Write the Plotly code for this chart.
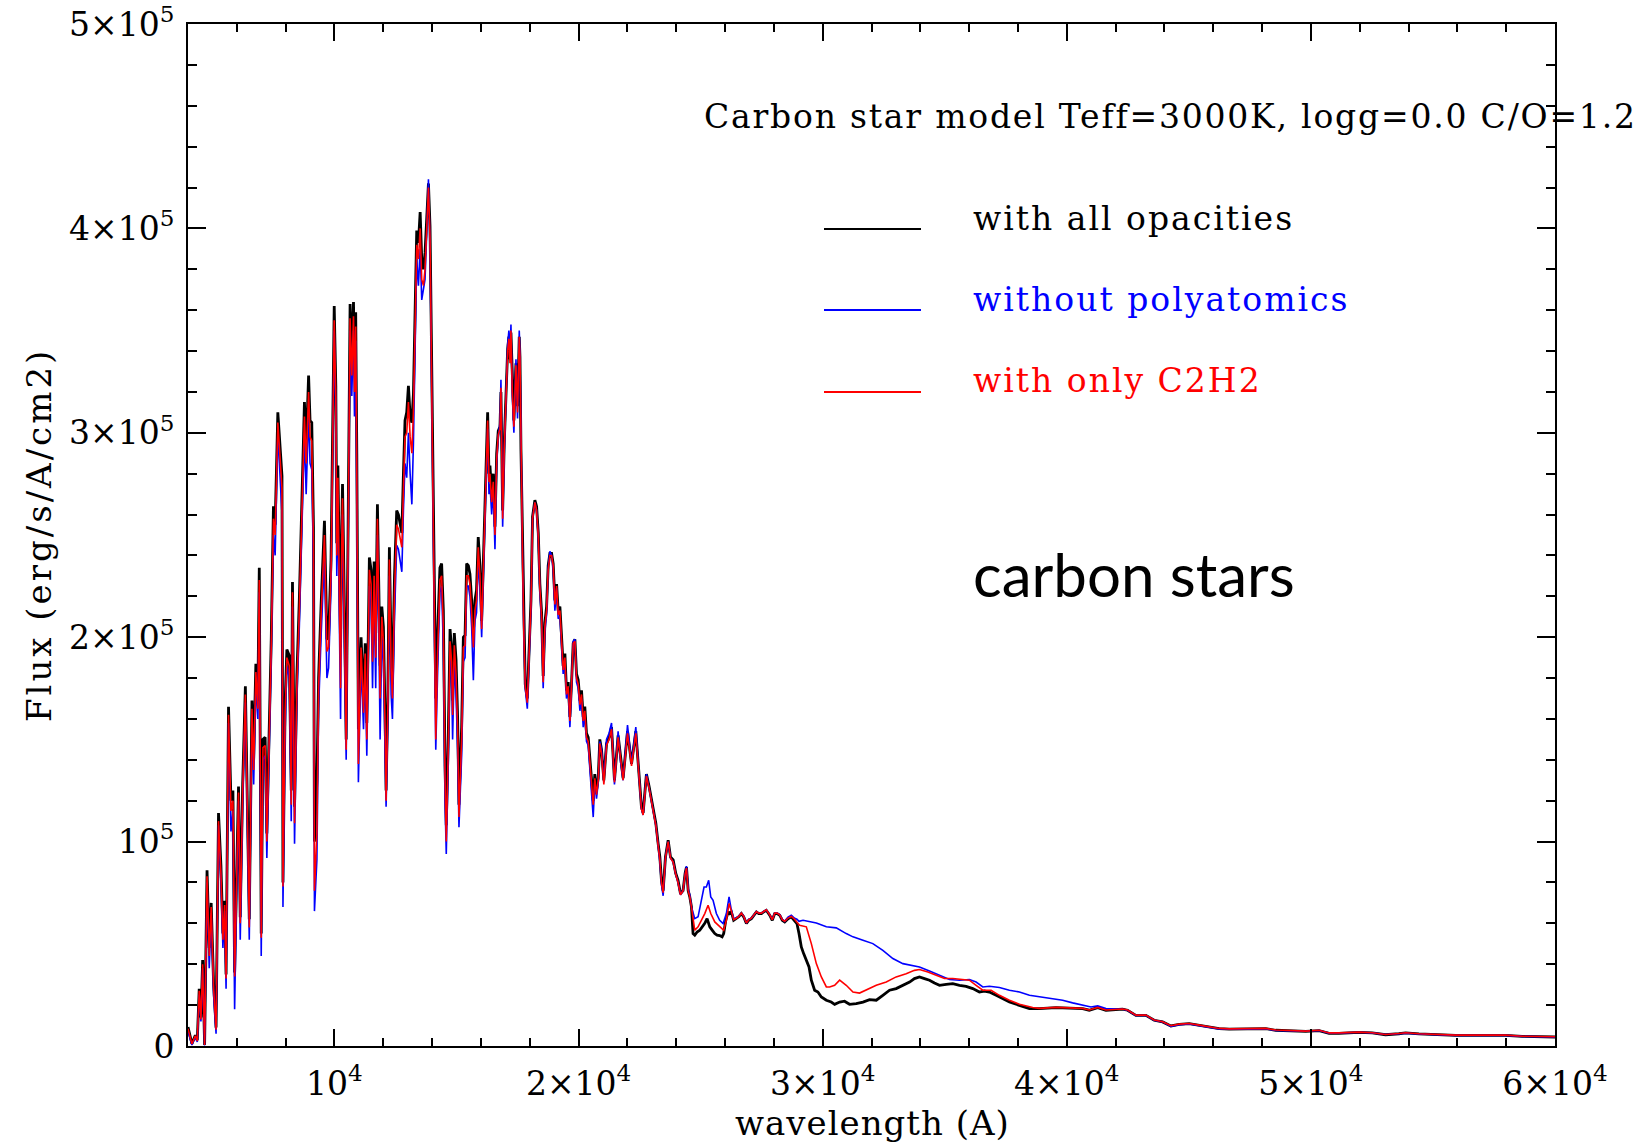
import plotly.graph_objects as go

# ---------------------------------------------------------------------------
# Synthetic spectra of a carbon star model (Teff=3000K, logg=0.0, C/O=1.2)
# Wavelength in Angstrom, flux in 10^3 erg/s/A/cm2.
# Below ~2.46 micron the three opacity set-ups share one wavelength grid.
# ---------------------------------------------------------------------------
wave_common = [
    4000, 4160, 4300, 4380, 4460, 4530, 4600, 4680, 4780, 4870, 4950, 5050, 5150,
    5250, 5350, 5430, 5500, 5560, 5660, 5760, 5840, 5910, 6000, 6070, 6140, 6240,
    6350, 6410, 6510, 6620, 6690, 6780, 6860, 6920, 7000, 7070, 7160, 7230, 7330,
    7410, 7500, 7570, 7680, 7780, 7850, 7890, 7980, 8050, 8150, 8230, 8280, 8365,
    8460, 8560, 8640, 8730, 8770, 8840, 8940, 9000, 9070, 9140, 9180, 9280, 9350,
    9450, 9590, 9690, 9760, 9860, 9930, 9990, 10055, 10095, 10140, 10190, 10250,
    10300, 10330, 10410, 10480, 10570, 10640, 10710, 10780, 10820, 10870, 10915,
    10980, 11090, 11190, 11260, 11325, 11390, 11430, 11500, 11560, 11625, 11690,
    11760, 11800, 11870, 11940, 12005, 12075, 12115, 12185, 12250, 12320, 12375,
    12460, 12550, 12620, 12690, 12760, 12825, 12890, 12960, 13030, 13100, 13170,
    13235, 13300, 13370, 13440, 13510, 13575, 13645, 13710, 13780, 13850, 13915,
    13985, 14050, 14095, 14150, 14220, 14320, 14390, 14460, 14530, 14580, 14665,
    14735, 14800, 14840, 14910, 14980, 15045, 15100, 15210, 15280, 15350, 15415,
    15485, 15550, 15620, 15690, 15755, 15820, 15890, 15960, 16030, 16100, 16140,
    16205, 16275, 16330, 16370, 16440, 16505, 16575, 16645, 16710, 16780, 16820,
    16890, 16955, 17025, 17095, 17145, 17190, 17230, 17285, 17350, 17435, 17500,
    17570, 17600, 17640, 17665, 17710, 17760, 17815, 17900, 17980, 18050, 18115,
    18210, 18280, 18350, 18415, 18485, 18550, 18620, 18690, 18755, 18825, 18895,
    18960, 19030, 19100, 19165, 19235, 19305, 19370, 19440, 19505, 19575, 19645,
    19710, 19780, 19850, 19915, 19985, 20055, 20120, 20190, 20255, 20325, 20395,
    20460, 20530, 20600, 20665, 20735, 20805, 20870, 20940, 21035, 21145, 21250,
    21350, 21470, 21620, 21720, 21825, 22005, 22170, 22345, 22480, 22575, 22645,
    22780, 22890, 22985, 23055, 23165, 23260, 23330, 23395, 23465, 23560, 23670,
    23765, 23875, 23980, 24075, 24175, 24280, 24365, 24420, 24490, 24555, 24625,
]

flux_all_common = [
    9.3, 1.1, 5.2, 2.8, 28, 14, 42, 0.5, 86, 48, 70, 30, 9,
    114, 88, 55, 71, 35, 166, 120, 125, 36, 88, 127, 63, 128,
    176, 140, 62, 169, 140, 187, 169, 234, 55, 150, 151, 104, 153,
    199, 264, 255, 310, 292, 279, 80, 168, 194, 191, 125, 227, 117,
    181, 218, 254, 298, 315, 292, 328, 306, 305, 254, 100, 130, 180,
    215, 257, 199, 200, 238, 319, 362, 323, 246, 284, 238, 195,
    254, 275, 213, 150, 269, 363, 336, 364, 329, 359, 290,
    155, 200, 169, 197, 158, 205, 239, 233, 197, 237, 202,
    265, 240, 186, 215, 205, 161, 125, 169, 244, 194, 177,
    230, 262, 260, 255, 251, 280, 306, 310, 323, 308, 305,
    319, 352, 399, 393, 408, 385, 380, 388, 409, 422, 401,
    336, 270, 213, 170, 200, 234, 236, 213, 137, 108, 153,
    204, 194, 169, 202, 189, 161, 118, 156, 200, 201, 236,
    235, 231, 218, 202, 218, 223, 249, 235, 208, 235, 251,
    280, 310, 280, 284, 270, 280, 254, 290, 301, 303, 320,
    262, 295, 319, 341, 347, 336, 349, 323, 306, 334, 313,
    347, 337, 292, 275, 235, 202, 177, 170, 194, 218, 259,
    267, 264, 251, 226, 212, 181, 207, 215, 235, 241, 241,
    236, 218, 226, 213, 215, 199, 186, 192, 174, 178, 161,
    177, 197, 199, 182, 179, 169, 174, 161, 166, 153, 151,
    141, 130, 120, 133, 125, 131, 150, 145, 130, 148, 151,
    156, 130, 152, 140, 131, 154, 138, 154, 132, 117, 114,
    133, 127, 120, 117, 109, 99, 92.5, 81, 76, 92.5, 100.7,
    92.5, 91, 84.5, 81, 74.5, 76, 84.5, 87.5, 76, 73, 68,
]

flux_nopoly_common = [
    7, 0.5, 4.5, 2, 25, 12, 38, 0.3, 80, 38, 65, 25, 6,
    108, 80, 48, 66, 28, 158, 105, 115, 18, 82, 120, 52, 120,
    168, 128, 52, 160, 128, 178, 160, 222, 44, 140, 142, 92, 144,
    190, 250, 240, 300, 280, 260, 68, 155, 186, 180, 110, 215, 99,
    170, 205, 240, 285, 300, 270, 310, 285, 282, 235, 66, 91, 165,
    200, 240, 180, 185, 225, 305, 350, 310, 230, 270, 220, 160,
    240, 260, 195, 140, 255, 350, 318, 350, 308, 345, 265,
    129, 188, 155, 185, 142, 193, 225, 218, 175, 222, 175,
    250, 222, 150, 200, 188, 145, 117, 158, 230, 172, 160,
    210, 245, 243, 238, 232, 262, 285, 278, 300, 280, 265,
    295, 335, 385, 372, 390, 365, 370, 375, 398, 424, 390,
    325, 260, 200, 145, 180, 222, 225, 195, 120, 94, 140,
    190, 180, 150, 188, 172, 145, 107, 142, 188, 190, 225,
    225, 220, 205, 179, 208, 212, 238, 224, 200, 227, 243,
    274, 302, 270, 275, 260, 272, 243, 285, 298, 305, 326,
    254, 290, 320, 343, 350, 337, 353, 318, 300, 336, 307,
    350, 338, 292, 275, 234, 200, 175, 165, 190, 214, 258,
    266, 262, 248, 222, 208, 175, 203, 211, 234, 242, 240,
    233, 213, 224, 209, 210, 195, 182, 188, 170, 174, 156,
    175, 198, 199, 178, 175, 164, 170, 156, 162, 149, 147,
    137, 125, 112, 129, 121, 129, 149, 145, 129, 150, 153,
    158, 128, 154, 139, 130, 157, 138, 156, 131, 116, 113,
    133, 126, 119, 116, 108, 98, 90, 79, 73.5, 92, 100,
    92, 90, 84, 80, 74, 76, 84, 88, 77, 74, 68,
]

flux_c2h2_common = [
    8.5, 1, 5, 2.5, 27, 13, 40, 0.5, 83, 44, 68, 28, 8,
    110, 84, 52, 69, 33, 162, 115, 120, 34, 85, 124, 60, 125,
    172, 135, 58, 165, 135, 183, 165, 228, 53, 146, 147, 100, 149,
    195, 258, 250, 305, 287, 273, 78, 163, 190, 186, 118, 222, 109,
    176, 213, 248, 292, 308, 285, 320, 298, 296, 245, 76, 104, 175,
    210, 250, 193, 195, 232, 312, 355, 318, 240, 278, 230, 175,
    248, 268, 205, 145, 262, 356, 328, 357, 320, 352, 280,
    138, 195, 163, 192, 150, 200, 233, 226, 188, 230, 190,
    258, 232, 170, 210, 198, 155, 120, 164, 238, 185, 170,
    222, 255, 253, 248, 244, 272, 298, 300, 315, 298, 290,
    310, 345, 392, 385, 400, 375, 372, 380, 402, 420, 395,
    330, 265, 208, 150, 190, 228, 230, 205, 130, 100, 148,
    198, 188, 162, 196, 182, 155, 112, 150, 195, 196, 230,
    230, 226, 212, 195, 213, 218, 244, 230, 204, 231, 247,
    277, 306, 276, 280, 266, 276, 250, 287, 299, 302, 322,
    258, 292, 318, 340, 346, 334, 350, 320, 303, 333, 310,
    347, 337, 292, 275, 235, 201, 176, 168, 192, 216, 258,
    266, 262, 249, 224, 210, 178, 205, 213, 233, 240, 240,
    235, 216, 225, 211, 213, 197, 184, 190, 172, 176, 159,
    176, 197, 198, 180, 177, 167, 172, 159, 164, 151, 149,
    139, 128, 118, 131, 123, 130, 148, 143, 128, 147, 150,
    155, 129, 151, 139, 130, 153, 137, 153, 131, 116, 113,
    132, 126, 119, 116, 108, 98, 91, 80, 75, 92, 100,
    92, 90, 84, 80, 74, 76, 84, 87, 76, 73, 68,
]

# Long-wavelength part, where the polyatomic bands separate the models
wave_all_tail = [
    24690, 24760, 24855, 24965, 25075, 25170, 25265, 25375, 25480, 25580, 25675,
    25780, 25880, 25945, 26030, 26125, 26190, 26260, 26355, 26465, 26560, 26670,
    26765, 26875, 26970, 27080, 27175, 27285, 27380, 27490, 27585, 27690, 27830,
    27935, 28035, 28130, 28240, 28345, 28445, 28580, 28715, 28850, 28945, 29030,
    29125, 29220, 29330, 29440, 29535, 29670, 29805, 29945, 30150, 30350, 30490,
    30695, 30895, 31100, 31375, 31650, 31920, 32195, 32465, 32740, 33010, 33285,
    33560, 33760, 33965, 34170, 34375, 34580, 34785, 35060, 35330, 35605, 35875,
    36150, 36420, 36625, 36830, 37105, 37375, 37650, 38060, 38470, 38875, 39560,
    40650, 40920, 41265, 41605, 42285, 42490, 42830, 43240, 43580, 43925, 44265,
    44605, 45015, 45425, 45830, 46240, 46650, 47060, 47605, 48150, 48560, 49245,
    49790, 50335, 50745, 51150, 51560, 51970, 52515, 53060, 53605, 53880, 54425,
    55245, 55925, 56610, 57290, 57970, 58655, 59335, 60000,
]
flux_all_tail = [
    55, 54.2, 55.8, 56.6, 58.3, 60, 62.3, 58.3, 56.6, 55, 54.2,
    54, 53.4, 55, 61.5, 65.6, 64.8, 65.6, 61.5, 62.3, 63.2, 64.8,
    63.2, 59.9, 61.5, 62.3, 64, 65.6, 64.8, 64.8, 65.6, 66.4, 64,
    61.5, 64.8, 64.8, 64, 61.5, 60.7, 62.3, 63.2, 61.5, 59.9, 55,
    48.5, 45.2, 41.9, 38.7, 32.2, 27.3, 26.4, 24, 22.4, 21.5, 20.4,
    21.5, 21.9, 20.4, 20.7, 21.5, 22.7, 22.4, 24.8, 27.3, 28.1, 29.7,
    31.3, 33, 33.8, 33, 32.2, 30.8, 29.7, 30.2, 30.5, 29.7, 29.2,
    28.1, 26.4, 26.9, 26.4, 24.8, 23.2, 21.5, 19.9, 18.3, 18.3, 18.8,
    18.3, 17.5, 18.8, 17.5, 18, 17.5, 15, 15, 12.6, 11.8, 9.8,
    10.6, 10.9, 10.1, 9.3, 8.5, 8.3, 8.3, 8.5, 8.5, 7.7, 7.3,
    7.2, 7.5, 6.2, 6.2, 6.4, 6.7, 6.4, 5.5, 6, 6.4, 5.9,
    5.4, 5.2, 5.2, 5.2, 5.2, 4.7, 4.4, 4.4,
]

wave_nopoly_tail = [
    24760, 24895, 25030, 25140, 25235, 25330, 25415, 25510, 25645, 25780, 25920,
    26055, 26165, 26260, 26355, 26465, 26560, 26670, 26765, 26875, 26970, 27080,
    27175, 27285, 27380, 27490, 27585, 27690, 27830, 27935, 28035, 28130, 28240,
    28345, 28445, 28580, 28715, 28850, 28945, 29030, 29195, 29740, 30150, 30555,
    30965, 31240, 31650, 32055, 32465, 32875, 33285, 33695, 33965, 34375, 34785,
    35195, 35605, 36010, 36285, 36560, 36830, 37240, 37650, 38060, 38470, 38875,
    39285, 39830, 40240, 40650, 40990, 41265, 41605, 42285, 42490, 42830, 43240,
    43580, 43925, 44265, 44605, 45015, 45425, 45830, 46240, 46650, 47060, 47605,
    48150, 48560, 49245, 49790, 50335, 50745, 51150, 51560, 51970, 52515, 53060,
    53605, 53880, 54425, 55245, 55925, 56610, 57290, 57970, 58655, 59335, 60000,
]
flux_nopoly_tail = [
    62.3, 63.2, 71.3, 77.8, 77.8, 81.1, 72.9, 71.3, 64.8, 61.5, 59.9,
    64.8, 73, 66.4, 62, 63, 63.5, 65, 63.5, 60.2, 62, 62.5,
    64, 65.8, 65, 65, 65.8, 66.6, 64.3, 62, 65, 65, 64.3,
    62, 61, 63, 64, 62.5, 62, 61, 61.5, 60.2, 58.3, 57.8,
    55, 53.4, 51.7, 50.1, 46.8, 42.8, 40.3, 39.5, 38.7, 36.7, 34.6,
    32.5, 32.2, 32.5, 31.3, 28.9, 29.2, 28.6, 27.3, 26.4, 24.8, 24,
    23.2, 22.4, 21.1, 19.9, 19.1, 19.6, 18.3, 18, 17.5, 15, 15,
    12.6, 11.8, 9.6, 10.4, 10.8, 10, 9.2, 8.4, 8.2, 8.3, 8.4,
    8.4, 7.6, 7.3, 7.2, 7.6, 6.3, 6.3, 6.4, 6.7, 6.4, 5.6,
    6, 6.3, 5.9, 5.4, 5.2, 5.2, 5.2, 5.2, 4.7, 4.4, 4.4,
]

wave_c2h2_tail = [
    24760, 24895, 25030, 25170, 25305, 25415, 25580, 25780, 25945, 26055, 26165,
    26260, 26355, 26465, 26560, 26670, 26765, 26875, 26970, 27080, 27175, 27285,
    27380, 27490, 27585, 27690, 27830, 27935, 28035, 28130, 28240, 28345, 28445,
    28580, 28715, 28850, 28945, 29055, 29330, 29535, 29740, 29945, 30150, 30285,
    30490, 30695, 30965, 31240, 31510, 31785, 32195, 32605, 33010, 33420, 33760,
    33965, 34310, 34650, 34990, 35330, 35740, 36010, 36285, 36560, 36900, 37240,
    37650, 38060, 38605, 38875, 39560, 40650, 40920, 41265, 41605, 42285, 42490,
    42830, 43240, 43580, 43925, 44265, 44605, 45015, 45425, 45830, 46240, 46650,
    47060, 47605, 48150, 48560, 49245, 49790, 50335, 50745, 51150, 51560, 51970,
    52515, 53060, 53605, 53880, 54425, 55245, 55925, 56610, 57290, 57970, 58655,
    59335, 60000,
]
flux_c2h2_tail = [
    56.6, 58.3, 61.5, 64.8, 68.9, 64.8, 60.7, 58.3, 56.6, 61.5, 69.7,
    66, 61.8, 62.5, 63.4, 65, 63.4, 60.2, 61.8, 62.5, 64.2, 65.8,
    65, 65, 65.8, 66.6, 64.2, 61.8, 65, 65, 64.2, 61.8, 61,
    62.6, 63.4, 62, 60.5, 59.1, 58.3, 50.1, 40.3, 33.8, 28.9, 28.9,
    29.7, 32.2, 29.7, 26.4, 25.9, 27.3, 29.7, 31.3, 33.8, 35.4, 37,
    37.4, 36.2, 34.6, 33, 33, 32.5, 32.2, 29.7, 27.3, 27.3, 24.8,
    22.4, 20.4, 18.8, 18.4, 18.9, 18.4, 17.6, 18.9, 17.6, 18.1, 17.6,
    15.1, 15.1, 12.7, 11.9, 9.9, 10.7, 11, 10.2, 9.4, 8.6, 8.4,
    8.4, 8.6, 8.6, 7.8, 7.4, 7.3, 7.7, 6.4, 6.4, 6.5, 6.8,
    6.5, 5.6, 6.1, 6.5, 6, 5.5, 5.3, 5.3, 5.3, 5.3, 4.8,
    4.5, 4.5,
]

# Axis ticks
x_tick_vals = [10000, 20000, 30000, 40000, 50000, 60000]
x_tick_text = ["10<sup>4</sup>", "2×10<sup>4</sup>", "3×10<sup>4</sup>",
               "4×10<sup>4</sup>", "5×10<sup>4</sup>", "6×10<sup>4</sup>"]
y_tick_vals = [0, 100000, 200000, 300000, 400000, 500000]
y_tick_text = ["0", "10<sup>5</sup>", "2×10<sup>5</sup>", "3×10<sup>5</sup>",
               "4×10<sup>5</sup>", "5×10<sup>5</sup>"]

series_names = ["with all opacities", "without polyatomics", "with only C2H2"]
series_colors = ["#000000", "#0000ff", "#ff0000"]

assert len(wave_common) == len(flux_all_common) == len(flux_nopoly_common) == len(flux_c2h2_common)
assert len(wave_all_tail) == len(flux_all_tail)
assert len(wave_nopoly_tail) == len(flux_nopoly_tail)
assert len(wave_c2h2_tail) == len(flux_c2h2_tail)


def to_cgs(values):
    return [v * 1000.0 for v in values]


W, H = 1644, 1143
L, R, T, B = 188, 89, 24, 97
PW, PH = W - L - R, H - T - B


def px(x):
    return (x - L) / PW


def py(y):
    return (H - B - y) / PH


def spaced(text, spacing):
    return f'<span style="letter-spacing:{spacing}px">{text}</span>'


SERIF = "DejaVu Serif"

fig = go.Figure()

model_data = [
    (wave_common + wave_all_tail, flux_all_common + flux_all_tail, 2.8),
    (wave_common + wave_nopoly_tail, flux_nopoly_common + flux_nopoly_tail, 1.6),
    (wave_common + wave_c2h2_tail, flux_c2h2_common + flux_c2h2_tail, 1.6),
]
for (wv, fl, lw), name, color in zip(model_data, series_names, series_colors):
    fig.add_trace(go.Scatter(
        x=wv, y=to_cgs(fl), mode="lines", name=name,
        line=dict(color=color, width=lw), showlegend=False,
    ))

axis_common = dict(
    showline=True, linecolor="black", linewidth=2, mirror="ticks",
    ticks="inside", tickcolor="black", tickwidth=1.5,
    showgrid=False, zeroline=False, automargin=False,
    tickfont=dict(family=SERIF, size=33, color="black"),
)

fig.update_xaxes(
    range=[4000, 60000], tickvals=x_tick_vals, ticktext=x_tick_text,
    ticklen=17, ticklabelstandoff=7,
    minor=dict(dtick=2000, tick0=0, ticklen=8, ticks="inside",
               tickcolor="black", tickwidth=1.5),
    **axis_common,
)
fig.update_yaxes(
    range=[0, 500000], tickvals=y_tick_vals, ticktext=y_tick_text,
    ticklen=18, ticklabelstandoff=5,
    minor=dict(dtick=20000, tick0=0, ticklen=9, ticks="inside",
               tickcolor="black", tickwidth=1.5),
    **axis_common,
)

annotations = [
    dict(x=px(702), y=py(116),
         text=spaced("Carbon star model Teff=3000K, logg=0.0 C/O=1.2", 1.8),
         xanchor="left", yanchor="middle",
         font=dict(family=SERIF, size=33, color="black")),
    dict(x=px(39), y=py(535), text=spaced("Flux (erg/s/A/cm2)", 3), textangle=-90,
         xanchor="center", yanchor="middle",
         font=dict(family=SERIF, size=34, color="black")),
    dict(x=px(872), y=py(1123), text=spaced("wavelength (A)", 1),
         xanchor="center", yanchor="middle",
         font=dict(family=SERIF, size=34, color="black")),
    dict(x=px(971), y=py(574), text="carbon stars",
         xanchor="left", yanchor="middle",
         font=dict(family="Lato", size=60, color="black")),
]
legend_y = [229, 310, 392]
shapes = []
for name, color, ly in zip(series_names, series_colors, legend_y):
    annotations.append(dict(
        x=px(971), y=py(ly - 11), text=spaced(name, 2), xanchor="left", yanchor="middle",
        font=dict(family=SERIF, size=33, color=color)))
    shapes.append(dict(
        type="line", xref="paper", yref="paper",
        x0=px(824), x1=px(921), y0=py(ly), y1=py(ly),
        line=dict(color=color, width=2)))

for a in annotations:
    a.update(xref="paper", yref="paper", showarrow=False)

fig.update_layout(
    width=W, height=H,
    margin=dict(l=L, r=R, t=T, b=B, pad=0),
    paper_bgcolor="white", plot_bgcolor="white",
    annotations=annotations, shapes=shapes,
    showlegend=False,
)

fig.write_html("out.html")
